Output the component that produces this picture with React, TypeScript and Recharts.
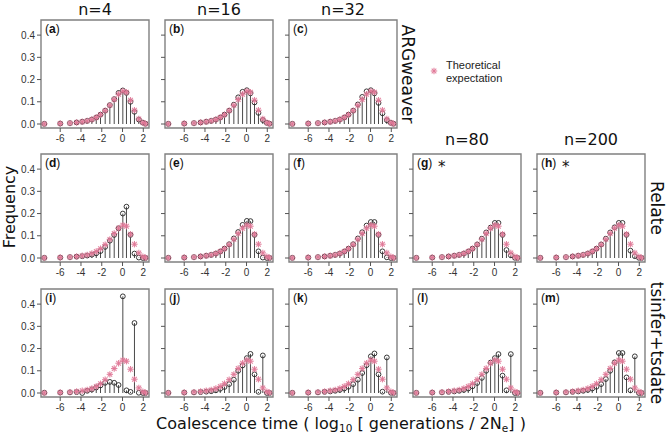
import React from "react";
import { ScatterChart, Scatter, XAxis, YAxis, ErrorBar, ReferenceArea } from "recharts";

// bin centres on the log10 scale, shared by every panel
const binCentres = [-7.53, -6.0, -5.06, -4.42, -3.88, -3.4, -2.95, -2.53, -2.12, -1.67, -1.22, -0.8, -0.38, 0.03, 0.38, 0.77, 1.15, 1.57, 1.96, 2.21];

// theoretical expectation (pink asterisks), same in all panels
const theoretical = [0.0005, 0.002, 0.004, 0.007, 0.01, 0.014, 0.02, 0.029, 0.042, 0.06, 0.084, 0.11, 0.134, 0.148, 0.143, 0.107, 0.062, 0.023, 0.006, 0.001];

// observed frequencies per panel
const obsA = [0.0005, 0.002, 0.004, 0.007, 0.01, 0.014, 0.02, 0.029, 0.042, 0.06, 0.085, 0.112, 0.14, 0.151, 0.14, 0.1, 0.055, 0.02, 0.006, 0.001];
const obsB = [0.0005, 0.002, 0.004, 0.007, 0.01, 0.014, 0.02, 0.029, 0.042, 0.06, 0.087, 0.12, 0.145, 0.152, 0.138, 0.097, 0.05, 0.018, 0.005, 0.001];
const obsC = [0.0005, 0.002, 0.004, 0.007, 0.01, 0.014, 0.02, 0.029, 0.042, 0.06, 0.088, 0.122, 0.147, 0.152, 0.138, 0.095, 0.048, 0.017, 0.005, 0.001];
const obsD = [0.0005, 0.002, 0.004, 0.006, 0.008, 0.011, 0.015, 0.021, 0.031, 0.05, 0.078, 0.104, 0.134, 0.2, 0.231, 0.104, 0.02, 0.002, 0.0, 0.0];
const obsE = [0.0005, 0.002, 0.004, 0.007, 0.01, 0.014, 0.02, 0.029, 0.042, 0.062, 0.088, 0.117, 0.149, 0.167, 0.166, 0.104, 0.03, 0.002, 0.0, 0.0];
const obsF = [0.0005, 0.002, 0.004, 0.007, 0.01, 0.014, 0.02, 0.029, 0.042, 0.062, 0.088, 0.116, 0.146, 0.162, 0.162, 0.104, 0.03, 0.003, 0.0, 0.0];
const obsG = [0.0005, 0.002, 0.004, 0.007, 0.01, 0.014, 0.02, 0.029, 0.042, 0.061, 0.087, 0.115, 0.137, 0.158, 0.158, 0.104, 0.036, 0.012, 0.001, 0.0];
const obsH = [0.0005, 0.002, 0.004, 0.007, 0.01, 0.014, 0.02, 0.029, 0.042, 0.061, 0.087, 0.115, 0.138, 0.158, 0.158, 0.104, 0.033, 0.008, 0.001, 0.0];
const obsI = [0.001, 0.002, 0.003, 0.004, 0.0, 0.01, 0.016, 0.025, 0.034, 0.046, 0.05, 0.046, 0.036, 0.435, 0.012, 0.005, 0.315, 0.001, 0.0, 0.0];
const obsJ = [0.0005, 0.002, 0.003, 0.004, 0.006, 0.008, 0.012, 0.019, 0.027, 0.04, 0.06, 0.1, 0.124, 0.157, 0.176, 0.084, 0.005, 0.169, 0.0, 0.0];
const obsK = [0.0005, 0.002, 0.003, 0.005, 0.007, 0.01, 0.014, 0.02, 0.028, 0.04, 0.06, 0.09, 0.125, 0.165, 0.178, 0.084, 0.006, 0.16, 0.001, 0.0];
const obsL = [0.0005, 0.002, 0.003, 0.005, 0.007, 0.01, 0.014, 0.02, 0.03, 0.045, 0.068, 0.1, 0.137, 0.157, 0.175, 0.078, 0.012, 0.175, 0.0, 0.0];
const obsM = [0.0005, 0.002, 0.003, 0.005, 0.007, 0.01, 0.014, 0.02, 0.028, 0.04, 0.063, 0.1, 0.138, 0.18, 0.18, 0.07, 0.012, 0.165, 0.0, 0.0];

const xTicks = [-6, -4, -2, 0, 2];
const yTicks = [0, 0.1, 0.2, 0.3, 0.4];
const sampleSizes = ["n=4", "n=16", "n=32", "n=80", "n=200"];
const methods = ["ARGweaver", "Relate", "tsinfer+tsdate"];

const X_DOMAIN = [-7.85, 2.55];
const Y_DOMAIN = [-0.018, 0.468];

const panels = [
  { tag: "a", row: 0, col: 0, obs: obsA },
  { tag: "b", row: 0, col: 1, obs: obsB },
  { tag: "c", row: 0, col: 2, obs: obsC },
  { tag: "d", row: 1, col: 0, obs: obsD },
  { tag: "e", row: 1, col: 1, obs: obsE },
  { tag: "f", row: 1, col: 2, obs: obsF },
  { tag: "g", row: 1, col: 3, obs: obsG, star: true },
  { tag: "h", row: 1, col: 4, obs: obsH, star: true },
  { tag: "i", row: 2, col: 0, obs: obsI },
  { tag: "j", row: 2, col: 1, obs: obsJ },
  { tag: "k", row: 2, col: 2, obs: obsK },
  { tag: "l", row: 2, col: 3, obs: obsL },
  { tag: "m", row: 2, col: 4, obs: obsM },
];

const colLeft = [41, 165, 289, 413, 537];
const rowTop = [20, 154, 289];
const FRAME = 108;
const AXIS_W = 36;
const PAD = 4;
const PINK = "#e07897";
const SANS = "'DejaVu Sans', sans-serif";
const TICK_FONT = "'Liberation Sans', Arial, sans-serif";

function Asterisk(props: any) {
  const { cx, cy } = props;
  const r = 3.2;
  const d = r * 0.72;
  return (
    <g stroke={PINK} strokeWidth={1.1} strokeOpacity={0.9}>
      <line x1={cx - r} y1={cy} x2={cx + r} y2={cy} />
      <line x1={cx} y1={cy - r} x2={cx} y2={cy + r} />
      <line x1={cx - d} y1={cy - d} x2={cx + d} y2={cy + d} />
      <line x1={cx - d} y1={cy + d} x2={cx + d} y2={cy - d} />
    </g>
  );
}

function OpenCircle(props: any) {
  const { cx, cy } = props;
  return <circle cx={cx} cy={cy} r={2.4} fill="none" stroke="#222" strokeWidth={0.9} />;
}

function Panel({ row, col, obs }: { row: number; col: number; obs: number[] }) {
  const obsData = binCentres.map((x, i) => ({ x, y: obs[i], stem: [obs[i], 0] }));
  const expData = binCentres.map((x, i) => ({ x, y: theoretical[i] }));
  return (
    <div style={{ position: "absolute", left: colLeft[col] - AXIS_W, top: rowTop[row] - PAD }}>
      <ScatterChart
        width={AXIS_W + FRAME + PAD}
        height={PAD + FRAME + 22}
        margin={{ top: PAD, right: PAD, bottom: 0, left: 0 }}
      >
        <XAxis
          type="number"
          dataKey="x"
          domain={X_DOMAIN}
          ticks={xTicks}
          interval={0}
          allowDataOverflow
          axisLine={false}
          tickSize={4}
          tickMargin={3}
          height={22}
          tickLine={{ stroke: "#555" }}
          tick={{ fontSize: 10, fill: "#333", fontFamily: TICK_FONT }}
        />
        <YAxis
          type="number"
          dataKey="y"
          domain={Y_DOMAIN}
          ticks={yTicks}
          interval={0}
          allowDataOverflow
          width={AXIS_W}
          axisLine={false}
          tickSize={4}
          tickMargin={2}
          tickLine={{ stroke: "#555" }}
          tickFormatter={(v: number) => (col === 0 ? v.toFixed(1) : "")}
          tick={{ fontSize: 10, fill: "#333", fontFamily: TICK_FONT }}
        />
        <ReferenceArea
          x1={X_DOMAIN[0]}
          x2={X_DOMAIN[1]}
          y1={Y_DOMAIN[0]}
          y2={Y_DOMAIN[1]}
          fill="none"
          stroke="#808080"
          strokeWidth={1.4}
        />
        <Scatter data={obsData} dataKey="y" shape={(p: any) => <OpenCircle {...p} />} isAnimationActive={false}>
          <ErrorBar dataKey="stem" direction="y" width={0} stroke="#4a4a4a" strokeWidth={1} isAnimationActive={false} />
        </Scatter>
        <Scatter data={expData} dataKey="y" shape={(p: any) => <Asterisk {...p} />} isAnimationActive={false} />
      </ScatterChart>
    </div>
  );
}

export default function App() {
  return (
    <div style={{ position: "absolute", left: 0, top: 0, width: 667, height: 435, background: "#fff" }}>
      {panels.map((p) => (
        <Panel key={p.tag} row={p.row} col={p.col} obs={p.obs} />
      ))}
      <svg width={667} height={435} style={{ position: "absolute", left: 0, top: 0, pointerEvents: "none" }}>
        {sampleSizes.map((s, i) => (
          <text
            key={s}
            x={colLeft[i] + FRAME / 2}
            y={i < 3 ? 15 : 145}
            textAnchor="middle"
            fontFamily={SANS}
            fontSize={16}
            fill="#111"
          >
            {s}
          </text>
        ))}
        {panels.map((p) => (
          <g key={"t" + p.tag}>
            <text x={colLeft[p.col] + 4} y={rowTop[p.row] + 13} fontFamily={TICK_FONT} fontSize={12} fill="#111">
              (<tspan fontWeight="bold">{p.tag}</tspan>)
            </text>
            {p.star && (
              <text x={colLeft[p.col] + 25} y={rowTop[p.row] + 18} fontFamily={SANS} fontSize={15} fill="#111">
                *
              </text>
            )}
          </g>
        ))}
        <text transform="translate(402,74) rotate(90)" textAnchor="middle" fontFamily={SANS} fontSize={17} fill="#111">
          {methods[0]}
        </text>
        <text transform="translate(651,208) rotate(90)" textAnchor="middle" fontFamily={SANS} fontSize={17} fill="#111">
          {methods[1]}
        </text>
        <text transform="translate(651,343) rotate(90)" textAnchor="middle" fontFamily={SANS} fontSize={17} fill="#111">
          {methods[2]}
        </text>
        <text transform="translate(15,207) rotate(-90)" textAnchor="middle" fontFamily={SANS} fontSize={16} fill="#111">
          Frequency
        </text>
        <text x={341} y={429} textAnchor="middle" fontFamily={SANS} fontSize={16} fill="#111">
          Coalescence time ( log
          <tspan fontSize={10.5} dy={2.5}>10</tspan>
          <tspan dy={-2.5}> [ generations / 2N</tspan>
          <tspan fontSize={10.5} dy={2.5}>e</tspan>
          <tspan dy={-2.5}>] )</tspan>
        </text>
        <Asterisk cx={434} cy={71} />
        <text x={446} y={69} fontFamily={TICK_FONT} fontSize={11} fill="#222">
          Theoretical
        </text>
        <text x={446} y={82} fontFamily={TICK_FONT} fontSize={11} fill="#222">
          expectation
        </text>
      </svg>
    </div>
  );
}
